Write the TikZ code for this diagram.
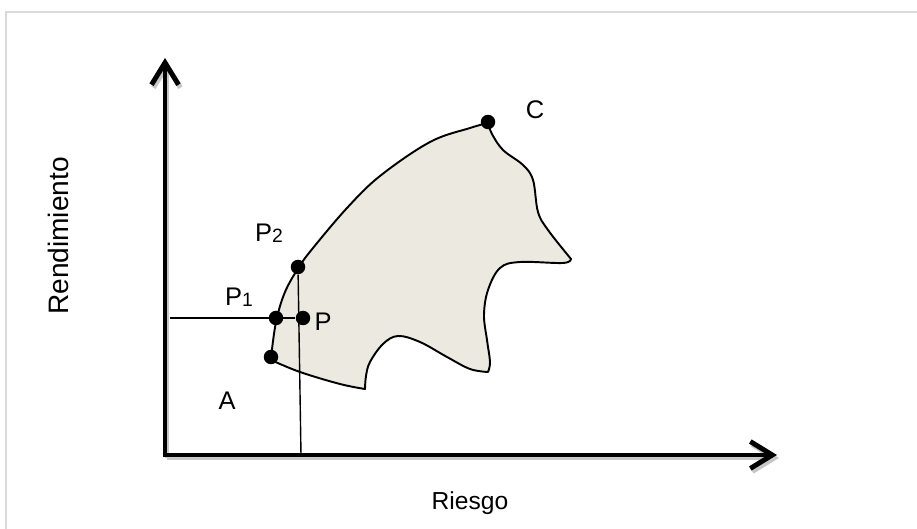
\documentclass[tikz,border=0pt]{standalone}
\usepackage{fontspec}
\setmainfont{Liberation Sans}
\usetikzlibrary{arrows.meta}
\definecolor{regfill}{RGB}{236,234,224}
\definecolor{framegray}{RGB}{218,218,218}

\begin{document}
\begin{tikzpicture}[
    x=0.2mm, y=-0.2mm,
    every node/.style={font=\fontsize{14.5}{17}\selectfont},
    ax/.style={line width=2.8pt, -{Straight Barb[length=4.4mm, width=5.4mm]}},
    axsh/.style={ax, black!22},
    guide/.style={line width=0.8pt},
    region/.style={draw, line width=1.1pt, fill=regfill, line join=round},
    pt/.style={circle, fill, minimum size=2.9mm, inner sep=0pt},
    lbl/.style={inner sep=1pt},
  ]
  \useasboundingbox (0,0) rectangle (917,529);
  % page frame
  \draw[framegray, line width=1.2pt] (6,529) -- (6,12) -- (917,12);

  % axes
  \coordinate (o) at (165,455);
  \coordinate (ytip) at (165,58);
  \coordinate (xtip) at (777,455);
  \draw[axsh] ([shift={(2,3)}]o) -- ([shift={(2,3)}]ytip);
  \draw[axsh] ([shift={(2,3)}]o) -- ([shift={(2,3)}]xtip);
  \draw[ax] ([yshift=-1.4pt]o) -- (ytip);
  \draw[ax] ([xshift=-1.4pt]o) -- (xtip);

  % feasible region
  \path[region]
    plot[smooth, tension=0.6] coordinates {(271,358) (276,322) (285,292) (299,267) (313,248)
      (347,208) (380,176) (430,142) (470,128) (488,123)}
    -- plot[smooth, tension=0.6] coordinates {(488,123) (492,134) (503,150) (523,165)
      (533,180) (538,212) (548,230) (571,259)}
    -- plot[smooth, tension=0.6] coordinates {(571,259) (563,263) (520,262) (500,268)
      (488,290) (484,315) (487,340) (490,362) (488,372)}
    -- plot[smooth, tension=0.6] coordinates {(488,372) (470,369) (447,357) (420,342)
      (398,336) (383,344) (370,362) (366,376) (365,389)}
    -- plot[smooth, tension=0.6] coordinates {(365,389) (340,384) (300,372) (271,360)}
    -- cycle;

  % points
  \node[pt] (pA) at (271,357) {};
  \node[pt] (pP1) at (276,318) {};
  \node[pt] (pP) at (303,318) {};
  \node[pt] (pP2) at (298,267) {};
  \node[pt] (pC) at (488,122) {};
  \coordinate (hl) at (170,318);
  \coordinate (vb) at (301,455);
  \draw[guide] (hl) -- (pP);
  \draw[guide] (pP2) -- (vb);

  % labels
  \node[lbl] (lC) at (535,110) {C};
  \node[lbl] (lP2) at (269,233) {P\raisebox{-0.5pt}{\fontsize{11}{13}\selectfont 2}};
  \node[lbl] (lP1) at (239,297) {P\raisebox{-0.5pt}{\fontsize{11}{13}\selectfont 1}};
  \node[lbl] (lP) at (323,322) {P};
  \node[lbl] (lA) at (227,401) {A};
  \node[rotate=90, font=\fontsize{16}{19}\selectfont] (ylab) at (58,236) {Rendimiento};
  \node[font=\fontsize{14}{17}\selectfont] (xlab) at (470,503) {Riesgo};
\end{tikzpicture}
\end{document}
